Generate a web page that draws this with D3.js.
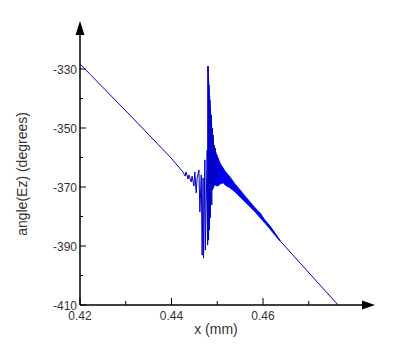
<!DOCTYPE html>
<html lang="en">
<head>
    <meta charset="UTF-8">
    <script src="https://d3js.org/d3.v7.min.js"></script>
    <title>angle(Ez) vs x</title>
    <style>
        body {
            background-color: white;
            margin: 0;
            padding: 0;
        }
        svg text {
            font-family: "Liberation Sans", Arial, sans-serif;
            fill: #333;
        }
    </style>
</head>
<body>
    <svg id="chart" width="396" height="356"></svg>
    <script>
        // main trace
        const xs = [0.4200, 0.4309, 0.4397, 0.4425, 0.4430, 0.4432, 0.4436, 0.4438, 0.4443, 0.4445,
                    0.4449, 0.4451, 0.4454, 0.4456, 0.4460, 0.4462, 0.4465, 0.4467, 0.4469, 0.4470,
                    0.4473, 0.4474, 0.4478, 0.4479, 0.4480, 0.4481, 0.4482, 0.4483, 0.4484, 0.4485,
                    0.4487, 0.4488, 0.4489, 0.4490, 0.4491, 0.4492, 0.4493, 0.4495, 0.4496, 0.4498,
                    0.4499, 0.4506, 0.4517, 0.4528, 0.4550, 0.4572, 0.4594, 0.4615, 0.4637, 0.4764];
        const ys = [-328.3, -345.6, -359.8, -364.9, -366.3, -364.9, -367.3, -365.9, -368.3, -366.3,
                    -369.7, -364.9, -372.0, -366.9, -364.2, -378.5, -365.9, -393.1, -366.9, -394.1,
                    -360.8, -391.4, -357.5, -389.7, -329.0, -388.0, -335.4, -384.6, -340.5, -380.5,
                    -345.6, -376.1, -350.0, -371.0, -352.4, -370.3, -355.8, -369.3, -356.8, -369.7,
                    -359.8, -365.5, -367.0, -368.5, -372.2, -375.9, -379.6, -383.2, -388.2, -410.0];

        // solid core just right of the main spike (upper / lower edge)
        const coreX  = [0.44792, 0.44807, 0.44818, 0.44840, 0.44861, 0.44883, 0.44905, 0.44927, 0.44949];
        const coreHi = [-329.0, -332.0, -335.4, -340.5, -345.6, -350.0, -353.4, -355.8, -357.5];
        const coreLo = [-360.8, -362.5, -365.9, -367.6, -369.3, -369.7, -369.7, -369.5, -369.3];

        // fast ripple band after the main spike (upper / lower envelope)
        const bandX  = [0.4495, 0.4502, 0.4506, 0.4513, 0.4517, 0.4528, 0.4539, 0.4550,
                        0.4561, 0.4572, 0.4583, 0.4594, 0.4604, 0.4615, 0.4626, 0.4637];
        const bandHi = [-357.5, -360.2, -361.9, -363.6, -364.6, -366.6, -369.0, -371.0,
                        -373.1, -375.1, -377.1, -378.8, -381.2, -383.2, -385.6, -388.0];
        const bandLo = [-369.3, -369.7, -369.0, -368.6, -369.3, -370.3, -371.7, -373.4,
                        -375.1, -376.8, -378.5, -380.5, -382.2, -384.2, -386.3, -388.3];

        const yTicks = [-330, -350, -370, -390, -410];
        const yMinor = [-340, -360, -380, -400];
        const xTicks = [0.42, 0.44, 0.46];
        const xMinor = [0.43, 0.45, 0.47];

        const svg = d3.select("#chart");
        const left = 80, bottom = 305;

        const x = d3.scaleLinear().domain([0.42, 0.46]).range([left, 263]);
        const y = d3.scaleLinear().domain([-410, -330]).range([bottom, 69]);

        // axis lines + arrows
        svg.append("line")
            .attr("x1", left).attr("x2", left)
            .attr("y1", bottom).attr("y2", 33)
            .attr("stroke", "black").attr("stroke-width", 1.5);
        svg.append("path")
            .attr("d", `M${left - 4.5},35 L${left},21 L${left + 4.5},35 Z`)
            .attr("fill", "black");
        svg.append("line")
            .attr("x1", left).attr("x2", 364)
            .attr("y1", bottom).attr("y2", bottom)
            .attr("stroke", "black").attr("stroke-width", 1.5);
        svg.append("path")
            .attr("d", `M362,${bottom - 4.5} L375,${bottom} L362,${bottom + 4.5} Z`)
            .attr("fill", "black");

        // ticks point into the plot
        svg.selectAll(".ytick").data(yTicks).enter().append("line")
            .attr("x1", left).attr("x2", left + 6)
            .attr("y1", d => y(d)).attr("y2", d => y(d))
            .attr("stroke", "black");
        svg.selectAll(".ymin").data(yMinor).enter().append("line")
            .attr("x1", left).attr("x2", left + 3)
            .attr("y1", d => y(d)).attr("y2", d => y(d))
            .attr("stroke", "black");
        svg.selectAll(".xtick").data(xTicks).enter().append("line")
            .attr("x1", d => x(d)).attr("x2", d => x(d))
            .attr("y1", bottom).attr("y2", bottom - 7)
            .attr("stroke", "black");
        svg.selectAll(".xmin").data(xMinor).enter().append("line")
            .attr("x1", d => x(d)).attr("x2", d => x(d))
            .attr("y1", bottom).attr("y2", bottom - 4)
            .attr("stroke", "black");

        // tick labels
        svg.selectAll(".ylab").data(yTicks).enter().append("text")
            .attr("x", left - 3).attr("y", d => y(d) + 4.5)
            .attr("text-anchor", "end")
            .attr("font-size", 12)
            .text(d => d);
        svg.selectAll(".xlab").data(xTicks).enter().append("text")
            .attr("x", d => x(d)).attr("y", bottom + 15)
            .attr("text-anchor", "middle")
            .attr("font-size", 12)
            .text(d => d.toFixed(2));

        // axis titles
        svg.append("text")
            .attr("x", 216).attr("y", 334)
            .attr("text-anchor", "middle")
            .attr("font-size", 14)
            .text("x (mm)");
        svg.append("text")
            .attr("transform", "translate(27,174) rotate(-90)")
            .attr("text-anchor", "middle")
            .attr("font-size", 14)
            .text("angle(Ez) (degrees)");

        // data
        const area = (xa, hi, lo) => d3.area()
            .x((d, i) => x(xa[i]))
            .y0((d, i) => y(lo[i]))
            .y1((d, i) => y(hi[i]))(xa);
        svg.append("path")
            .attr("d", area(coreX, coreHi, coreLo))
            .attr("fill", "#0000f0")
            .attr("stroke", "#0000f0")
            .attr("stroke-width", 0.6);
        svg.append("path")
            .attr("d", area(bandX, bandHi, bandLo))
            .attr("fill", "#0000f0")
            .attr("stroke", "#0000f0")
            .attr("stroke-width", 0.8);

        const line = d3.line()
            .x((d, i) => x(xs[i]))
            .y((d, i) => y(ys[i]));
        svg.append("path")
            .attr("d", line(xs))
            .attr("fill", "none")
            .attr("stroke", "#0000c8")
            .attr("stroke-width", 1);
    </script>
</body>
</html>
